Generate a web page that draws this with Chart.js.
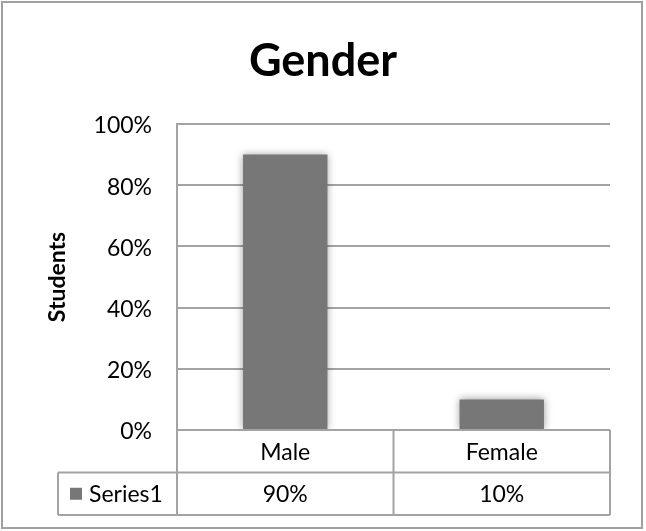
<!DOCTYPE html>
<html>
<head>
<meta charset="utf-8">
<script src="https://cdn.jsdelivr.net/npm/chart.js@4.4.1/dist/chart.umd.min.js"></script>
<style>
  html, body { margin: 0; padding: 0; background: #fff; }
  #wrap { width: 646px; height: 531px; position: relative; }
</style>
</head>
<body>
<div id="wrap"><canvas id="c" width="646" height="531"></canvas></div>
<script>
const chartTitle = 'Gender';
const yAxisTitle = 'Students';
const categories = ['Male', 'Female'];
const seriesName = 'Series1';
const seriesValues = [90, 10];
const yTickValues = [0, 20, 40, 60, 80, 100];

const FONT = 'Lato, "Open Sans", sans-serif';
const GRID = '#a3a3a3';
const BAR = '#777777';

const shadowPlugin = {
  id: 'barShadow',
  beforeDatasetsDraw(chart) {
    const ctx = chart.ctx;
    ctx.save();
    ctx.shadowColor = 'rgba(0,0,0,0.4)';
    ctx.shadowBlur = 8;
    ctx.shadowOffsetX = 0;
    ctx.shadowOffsetY = 0;
  },
  afterDatasetsDraw(chart) {
    chart.ctx.restore();
  }
};

const tablePlugin = {
  id: 'dataTable',
  afterDraw(chart) {
    const ctx = chart.ctx;
    const x = chart.scales.x;
    const area = chart.chartArea;
    const rowH = 42.5;
    const top = area.bottom;
    const mid = top + rowH;
    const bot = mid + rowH;
    const legendLeft = 58;
    ctx.save();
    ctx.strokeStyle = GRID;
    ctx.lineWidth = 2;
    ctx.beginPath();
    ctx.moveTo(area.left, top); ctx.lineTo(area.right, top);
    ctx.moveTo(legendLeft, mid); ctx.lineTo(area.right, mid);
    ctx.moveTo(legendLeft, bot); ctx.lineTo(area.right, bot);
    ctx.moveTo(legendLeft, mid); ctx.lineTo(legendLeft, bot);
    ctx.moveTo(area.left, area.top); ctx.lineTo(area.left, bot);
    const half = (x.getPixelForValue(1) - x.getPixelForValue(0)) / 2;
    categories.forEach((c, i) => {
      const r = x.getPixelForValue(i) + half;
      ctx.moveTo(r, top); ctx.lineTo(r, bot);
    });
    ctx.stroke();

    ctx.fillStyle = '#000';
    ctx.font = '23px ' + FONT;
    ctx.textAlign = 'center';
    ctx.textBaseline = 'middle';
    categories.forEach((c, i) => {
      const cx = x.getPixelForValue(i);
      ctx.fillText(c, cx, top + rowH / 2 + 1);
      ctx.fillText(seriesValues[i] + '%', cx, mid + rowH / 2 + 0.5);
    });
    ctx.fillStyle = BAR;
    ctx.fillRect(70, mid + rowH / 2 - 6, 12, 12);
    ctx.fillStyle = '#000';
    ctx.textAlign = 'left';
    ctx.fillText(seriesName, 89, mid + rowH / 2 + 0.5);

    // chart title
    ctx.font = 'bold 45px ' + FONT;
    ctx.textAlign = 'center';
    ctx.textBaseline = 'alphabetic';
    ctx.fillText(chartTitle, 323, 76);

    // outer border
    ctx.strokeStyle = '#a0a0a0';
    ctx.lineWidth = 2;
    ctx.strokeRect(2, 2, 640, 526);
    ctx.restore();
  }
};

function build() {
  new Chart(document.getElementById('c'), {
    type: 'bar',
    data: {
      labels: categories,
      datasets: [{
        label: seriesName,
        data: seriesValues,
        backgroundColor: BAR,
        borderWidth: 0,
        barPercentage: 0.39,
        categoryPercentage: 1.0
      }]
    },
    options: {
      responsive: false,
      animation: false,
      devicePixelRatio: 1,
      layout: { padding: { left: 0, right: 36, top: 124, bottom: 101 } },
      plugins: {
        legend: { display: false },
        tooltip: { enabled: false },
        title: { display: false }
      },
      scales: {
        x: {
          display: true,
          afterFit(scale) { scale.height = 0; },
          grid: { display: false, drawTicks: false },
          border: { display: false },
          ticks: { display: false, padding: 0 }
        },
        y: {
          min: 0,
          max: 100,
          afterFit(scale) { scale.width = 177; },
          afterBuildTicks(scale) { scale.ticks = yTickValues.map(v => ({ value: v })); },
          ticks: {
            padding: 25,
            labelOffset: 2,
            color: '#000',
            font: { family: FONT, size: 23 },
            callback: v => v + '%'
          },
          grid: { color: GRID, lineWidth: 2, drawTicks: false },
          border: { display: true, color: GRID, width: 2 },
          title: {
            display: true,
            text: yAxisTitle,
            color: '#000',
            font: { family: FONT, size: 23, weight: 'bold', lineHeight: 1.2 },
            padding: { top: 44, bottom: 0 }
          }
        }
      }
    },
    plugins: [shadowPlugin, tablePlugin]
  });
}

const fontLoads = [
  document.fonts.load('23px Lato'),
  document.fonts.load('bold 45px Lato'),
  document.fonts.load('bold 23px Lato')
];
Promise.all(fontLoads).then(build, build);
</script>
</body>
</html>
